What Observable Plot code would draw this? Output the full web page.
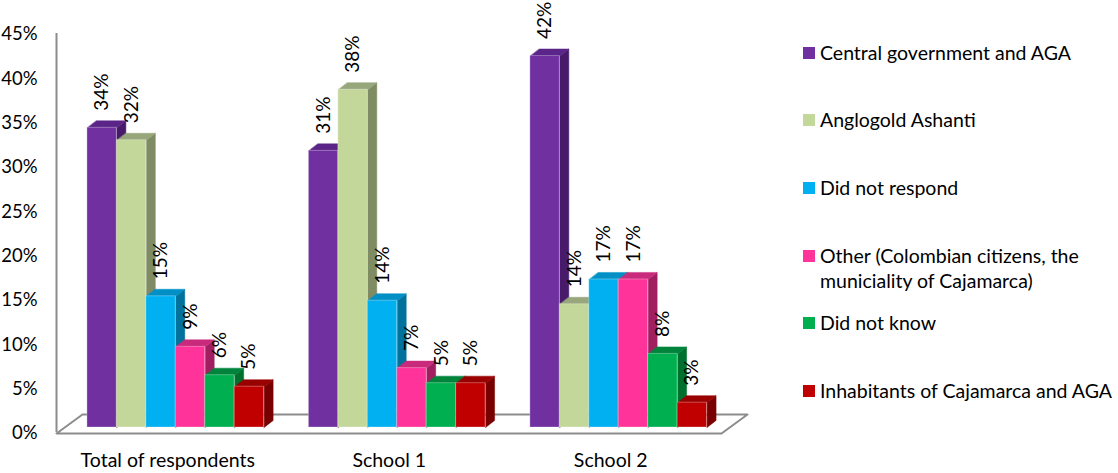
<!DOCTYPE html>
<html>
<head>
<meta charset="utf-8">
<script src="https://cdn.jsdelivr.net/npm/d3@7"></script>
<script src="https://cdn.jsdelivr.net/npm/@observablehq/plot@0.6"></script>
<style>
  html, body { margin: 0; padding: 0; background: #fff; }
  #chart { position: relative; width: 1118px; height: 473px; font-family: Lato, "Noto Sans", sans-serif; }
  #legend { position: absolute; left: 803px; top: 0; width: 315px; height: 473px; }
  .item { position: absolute; left: 0; display: flex; align-items: flex-start; font-size: 19.5px; line-height: 25.7px; color: #000; white-space: pre-line; }
  .sw { width: 12px; height: 12px; margin-top: 7px; margin-right: 5px; flex: none; }
</style>
</head>
<body>
<div id="chart"><div id="legend"></div></div>
<script>
// ---- data ----
const categories = ["Total of respondents", "School 1", "School 2"];
const seriesNames = [
  "Central government and AGA",
  "Anglogold Ashanti",
  "Did not respond",
  "Other (Colombian citizens, the\nmuniciality of Cajamarca)",
  "Did not know",
  "Inhabitants of Cajamarca and AGA"
];
const centralGovernment = [33.8, 31.2, 41.9];
const anglogold = [32.4, 38.1, 13.9];
const didNotRespond = [14.8, 14.3, 16.7];
const other = [9.1, 6.7, 16.7];
const didNotKnow = [5.9, 5.0, 8.3];
const inhabitants = [4.6, 5.0, 2.8];
const yTicks = [0, 5, 10, 15, 20, 25, 30, 35, 40, 45];

// ---- styles ----
const frontColors = ["#7030a0", "#c4d79b", "#00b0f0", "#ff3399", "#00b050", "#c00000"];
const topColors   = ["#5a2488", "#97a77b", "#0090c6", "#c92a7c", "#00843c", "#990000"];
const sideColors  = ["#481b6a", "#7f8b63", "#00729c", "#a11f60", "#00702f", "#780000"];

const seriesValues = [centralGovernment, anglogold, didNotRespond, other, didNotKnow, inhabitants];

// layout
const W = 1118, H = 473;
const mL = 56, mR = 397, mT = 28, mB = 46;
const STRIDE = 7.52;             // slots between group starts
const X_DOMAIN = [-1.05, 21.53];
const Y_DOMAIN = [0, 45];
const kx = (W - mL - mR) / (X_DOMAIN[1] - X_DOMAIN[0]); // px per slot
const ky = (H - mT - mB) / (Y_DOMAIN[1] - Y_DOMAIN[0]); // px per %
const DX = 9 / kx, DY = 7 / ky;          // bar depth in data units
const FDX = 26 / kx, FDY = 19 / ky;      // floor depth in data units

const bars = [];
categories.forEach((cat, g) => {
  seriesValues.forEach((vals, s) => {
    const x0 = g * STRIDE + s;
    bars.push({cat, s, value: vals[g], x0, x1: x0 + 1, xm: x0 + 0.5});
  });
});

const sidePts = [], topPts = [];
bars.forEach((b, i) => {
  const sc = sideColors[b.s], tc = topColors[b.s];
  sidePts.push(
    {id: i, x: b.x1, y: b.value, c: sc},
    {id: i, x: b.x1 + DX, y: b.value + DY, c: sc},
    {id: i, x: b.x1 + DX, y: DY, c: sc},
    {id: i, x: b.x1, y: 0, c: sc}
  );
  topPts.push(
    {id: i, x: b.x0, y: b.value, c: tc},
    {id: i, x: b.x1, y: b.value, c: tc},
    {id: i, x: b.x1 + DX, y: b.value + DY, c: tc},
    {id: i, x: b.x0 + DX, y: b.value + DY, c: tc}
  );
});

const floor = [
  {x: X_DOMAIN[0], y: 0},
  {x: X_DOMAIN[1], y: 0},
  {x: X_DOMAIN[1] + FDX, y: FDY},
  {x: X_DOMAIN[0] + FDX, y: FDY}
];

const catLabels = categories.map((c, g) => ({c, x: g * STRIDE + 3}));

const chart = Plot.plot({
  width: W, height: H,
  marginLeft: mL, marginRight: mR, marginTop: mT, marginBottom: mB,
  style: {fontFamily: "Lato, 'Noto Sans', sans-serif", fontSize: "18px", color: "#000", background: "transparent"},
  x: {domain: X_DOMAIN, axis: null},
  y: {domain: Y_DOMAIN},
  color: {type: "identity"},
  marks: [
    Plot.line(floor, {x: "x", y: "y", curve: "linear-closed", stroke: "#8c8c8c", strokeWidth: 2, fill: "white", dy: 6}),
    Plot.ruleX([X_DOMAIN[0]], {y1: 0, y2: 45, stroke: "#8c8c8c", strokeWidth: 2, dy: 5}),
    Plot.axisY({ticks: yTicks, tickFormat: d => d + "%", tickSize: 0, tickPadding: 19, dy: 6, fontSize: 18.5, fill: "#000"}),
    Plot.line(sidePts, {x: "x", y: "y", z: "id", fill: "c", stroke: "c", strokeWidth: 0.5, curve: "linear-closed"}),
    Plot.line(topPts, {x: "x", y: "y", z: "id", fill: "c", stroke: "c", strokeWidth: 0.5, curve: "linear-closed"}),
    Plot.rect(bars, {x1: "x0", x2: "x1", y1: 0, y2: "value", fill: d => frontColors[d.s], stroke: "white", strokeOpacity: 0.3, strokeWidth: 1}),
    Plot.text(bars, {x: "xm", y: "value", text: d => Math.round(d.value) + "%", rotate: -90, textAnchor: "start", dy: -17, fontSize: 19, fill: "#000"}),
    Plot.text(catLabels, {x: "x", y: 0, text: "c", dy: 33, dx: -8, fontSize: 19.5, fill: "#000"})
  ]
});
document.getElementById("chart").prepend(chart);

const legend = document.getElementById("legend");
seriesNames.forEach((name, i) => {
  const item = document.createElement("div");
  item.className = "item";
  item.style.top = (39.8 + i * 67.6) + "px";
  const sw = document.createElement("span");
  sw.className = "sw";
  sw.style.background = frontColors[i];
  const tx = document.createElement("span");
  tx.textContent = name;
  item.append(sw, tx);
  legend.append(item);
});
</script>
</body>
</html>
